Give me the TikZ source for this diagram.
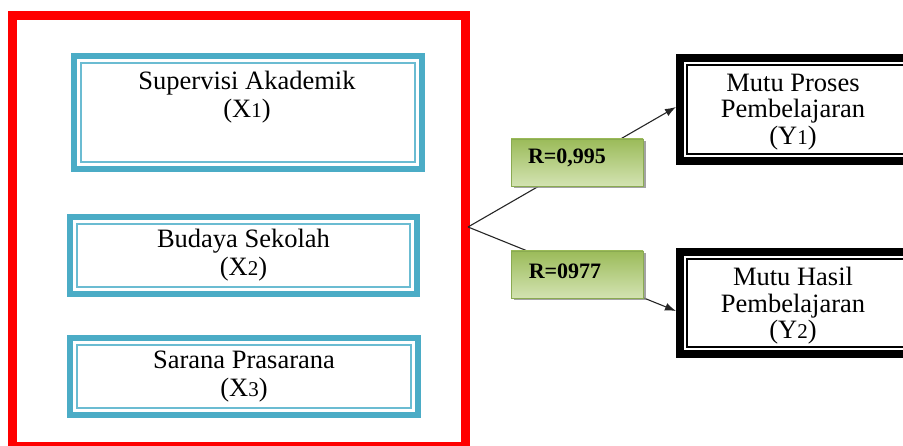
\documentclass[tikz,border=0pt]{standalone}
\usepackage{fontspec}
\setmainfont{Liberation Serif}
\usetikzlibrary{arrows.meta,shadows,calc}
\definecolor{tealc}{HTML}{4BACC6}
\definecolor{tealin}{HTML}{6BBCD2}
\definecolor{framered}{HTML}{FF0000}
\definecolor{olivetop}{HTML}{9BBB59}
\definecolor{olivebot}{HTML}{D3E3B2}
\definecolor{oliveline}{HTML}{8AAA52}
\newcommand{\smalldig}[1]{{\fontsize{21}{21}\selectfont #1}}
\begin{document}
\begin{tikzpicture}[x=1pt,y=-1pt,
  txt/.style={font=\fontsize{26.5}{28}\selectfont, align=center, inner sep=0pt},
  xbox/.style={draw=tealc, line width=6pt, inner sep=0pt, txt},
  xinner/.style={draw=tealin, line width=1.6pt},
  ybox/.style={draw=black, line width=8pt, inner sep=0pt, minimum width=240pt},
  ytxt/.style={txt, font=\fontsize{26.5}{26.5}\selectfont},
  yinner/.style={draw=black, line width=1.6pt},
  rbox/.style={draw=oliveline, line width=0.8pt, top color=olivetop, bottom color=olivebot,
    minimum width=132pt, minimum height=47pt, inner sep=0pt,
    drop shadow={shadow xshift=2.5pt, shadow yshift=-2.5pt, fill=black!45, opacity=0.8}},
  rtxt/.style={font=\bfseries\fontsize{22}{24}\selectfont, inner sep=0pt},
  conn/.style={draw=black!85, line width=1.1pt, -{Latex[length=11pt,width=8pt]}}
]
\useasboundingbox (0,0) rectangle (903,446);
\clip (0,0) rectangle (903,446);
% red frame
\draw[framered, line width=9pt] (12.5,16) rectangle (465,447);
% X boxes
\node[xbox, minimum width=348pt, minimum height=113pt] (x1) at (248,112.5) {};
\node[txt] (x1t) at (247,97) {Supervisi Akademik\\(X\smalldig{1})};
\node[xbox, minimum width=347pt, minimum height=77pt] (x2) at (243.5,255.5) {Budaya Sekolah\\(X\smalldig{2})};
\node[xbox, minimum width=348pt, minimum height=77pt] (x3) at (244,376.5) {Sarana Prasarana\\(X\smalldig{3})};
\draw[xinner] ([xshift=9.8pt,yshift=-9.8pt]x1.north west) rectangle ([xshift=-9.8pt,yshift=9.8pt]x1.south east);
\draw[xinner] ([xshift=9.8pt,yshift=-9.8pt]x2.north west) rectangle ([xshift=-9.8pt,yshift=9.8pt]x2.south east);
\draw[xinner] ([xshift=9.8pt,yshift=-9.8pt]x3.north west) rectangle ([xshift=-9.8pt,yshift=9.8pt]x3.south east);
% Y boxes (running past the right edge)
\node[ybox, minimum height=103pt] (y1) at (800,109.5) {};
\node[ybox, minimum height=102pt] (y2) at (800,303) {};
\draw[yinner] ([xshift=11pt,yshift=-11pt]y1.north west) rectangle ([xshift=-11pt,yshift=11pt]y1.south east);
\draw[yinner] ([xshift=11pt,yshift=-11pt]y2.north west) rectangle ([xshift=-11pt,yshift=11pt]y2.south east);
\node[ytxt] (y1t) at (793,112) {Mutu Proses\\Pembelajaran\\(Y\smalldig{1})};
\node[ytxt] (y2t) at (793,306) {Mutu Hasil\\Pembelajaran\\(Y\smalldig{2})};
% connectors
\coordinate (src) at (468,227);
\draw[conn] (src) -- ([yshift=2.5pt]y1.west);
\draw[conn] (src) -- ([yshift=-8pt]y2.west);
% labels
\node[rbox] (l1) at (577,162.5) {};
\node[rtxt] (l1t) at (567,158) {R=0,995};
\node[rbox] (l2) at (577,274.5) {};
\node[rtxt] (l2t) at (565,271) {R=0977};
\end{tikzpicture}
\end{document}
